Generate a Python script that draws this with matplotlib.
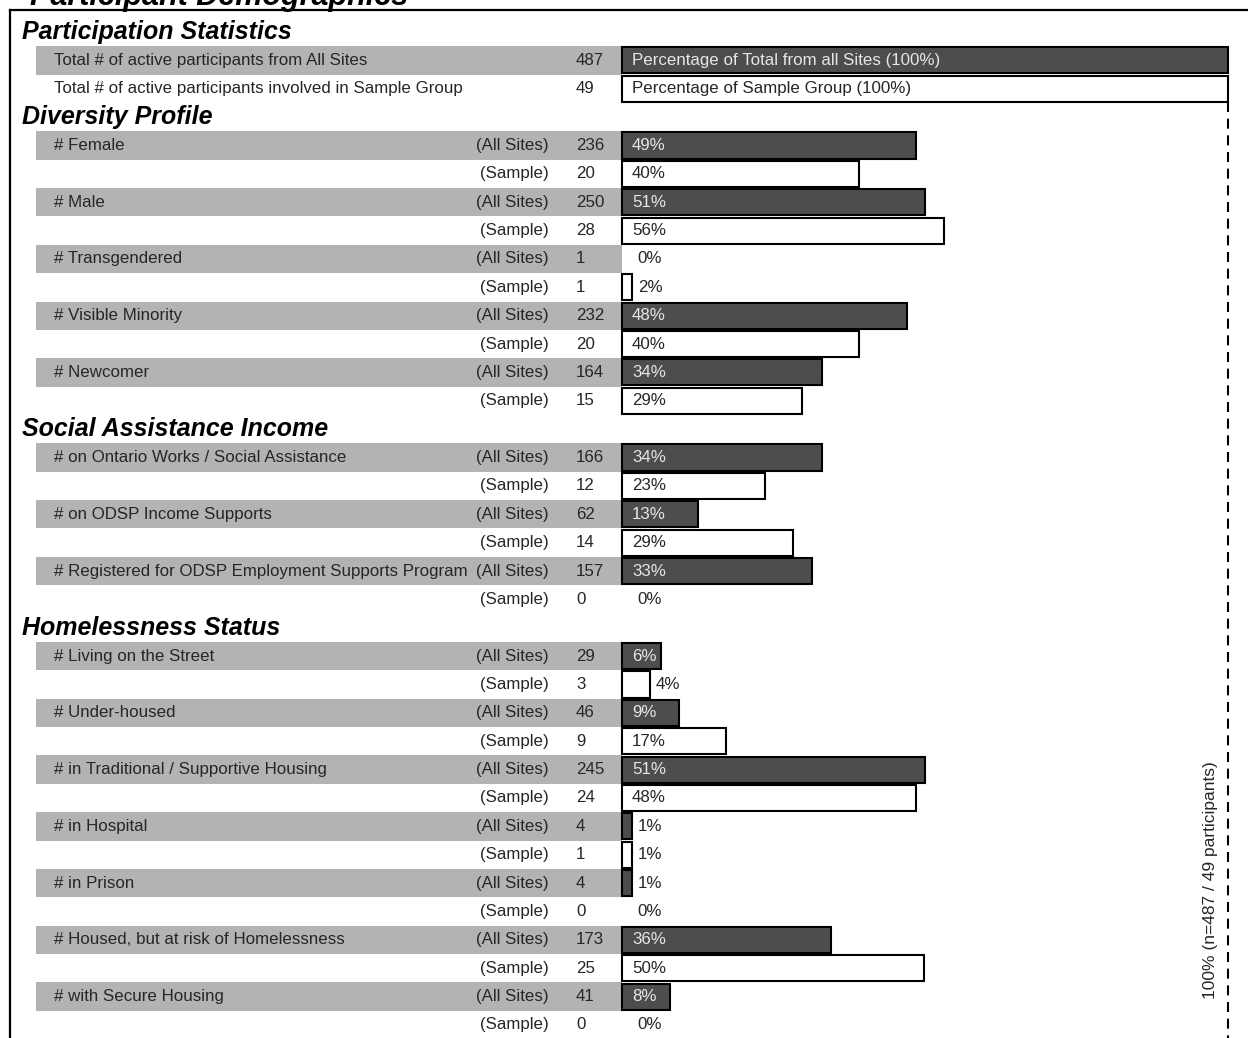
import matplotlib.pyplot as plt

plt.rcParams['font.family'] = ['Liberation Sans', 'DejaVu Sans']

# participation rows
part_labels = ["Total # of active participants from All Sites",
               "Total # of active participants involved in Sample Group"]
part_counts = [487, 49]
part_bar_text = ["Percentage of Total from all Sites (100%)", "Percentage of Sample Group (100%)"]
part_pct = [100, 100]

# sections
section_titles = ["Diversity Profile", "Social Assistance Income", "Homelessness Status"]

diversity_items = ["# Female", "# Male", "# Transgendered", "# Visible Minority", "# Newcomer"]
diversity_all = [236, 250, 1, 232, 164]
diversity_sample = [20, 28, 1, 20, 15]
diversity_all_pct = [49, 51, 0, 48, 34]
diversity_sample_pct = [40, 56, 2, 40, 29]
diversity_all_bar = [48.5, 50.0, 0, 47.0, 33.0]        # bar lengths as drawn
diversity_sample_bar = [39.1, 53.1, 1.65, 39.1, 29.7]

income_items = ["# on Ontario Works / Social Assistance", "# on ODSP Income Supports",
                "# Registered for ODSP Employment Supports Program"]
income_all = [166, 62, 157]
income_sample = [12, 14, 0]
income_all_pct = [34, 13, 33]
income_sample_pct = [23, 29, 0]
income_all_bar = [33.0, 12.5, 31.4]
income_sample_bar = [23.6, 28.2, 0]

housing_items = ["# Living on the Street", "# Under-housed", "# in Traditional / Supportive Housing",
                 "# in Hospital", "# in Prison", "# Housed, but at risk of Homelessness",
                 "# with Secure Housing"]
housing_all = [29, 46, 245, 4, 4, 173, 41]
housing_sample = [3, 9, 24, 1, 0, 25, 0]
housing_all_pct = [6, 9, 51, 1, 1, 36, 8]
housing_sample_pct = [4, 17, 48, 1, 0, 50, 0]
housing_all_bar = [6.4, 9.4, 50.0, 1.65, 1.65, 34.5, 7.9]
housing_sample_bar = [4.6, 17.2, 48.5, 1.65, 0, 49.8, 0]

sections = [
    (diversity_items, diversity_all, diversity_sample, diversity_all_pct, diversity_sample_pct,
     diversity_all_bar, diversity_sample_bar),
    (income_items, income_all, income_sample, income_all_pct, income_sample_pct,
     income_all_bar, income_sample_bar),
    (housing_items, housing_all, housing_sample, housing_all_pct, housing_sample_pct,
     housing_all_bar, housing_sample_bar),
]

# colours
GRAY = '#b3b3b3'
DARK = '#4d4d4d'
TXT = '#262626'

# pixel -> data helpers (0% at px 622, 100% at px 1228, rows every 28.37 px)
def px2x(px):
    return (px - 622) / 6.06

def px2y(py):
    return (py - 32) / 28.37

fig = plt.figure(figsize=(12.48, 10.38), dpi=100)
ax = fig.add_axes([0, 0, 1, 1])
ax.set_xlim(px2x(0), px2x(1248))
ax.set_ylim(px2y(1038), px2y(0))
ax.axis('off')

X_HEAD = px2x(22)
X_NAME = px2x(54)
X_TAG = px2x(549)
X_CNT = px2x(576)
X_PCT = px2x(632)
BAND_L = px2x(36)
FS = 12.2
FS_HEAD = 18


def header(k, title):
    ax.text(X_HEAD, k, title, fontsize=FS_HEAD, fontweight='heavy', style='italic',
            va='center', ha='left', color='black')


def band(k):
    ax.barh(k, 0 - BAND_L, left=BAND_L, height=1.0, color=GRAY, linewidth=0, zorder=1)


def bar(k, width, dark, label):
    if width > 0:
        ax.barh(k, width, left=0, height=0.92, color=DARK if dark else 'white',
                edgecolor='black', linewidth=1.5, zorder=2)
    if width > 5:
        ax.text(X_PCT, k, label, fontsize=FS, va='center', ha='left',
                color='#e6e6e6' if dark else TXT, zorder=3)
    else:
        ax.text(max(width + 1.0, 2.5), k, label, fontsize=FS, va='center', ha='left',
                color=TXT, zorder=3)


# title (cut off by the top of the page)
fig.text(30 / 1248, 1 - 5 / 1038, "Participant Demographics", fontsize=22,
         fontweight='heavy', style='italic', va='baseline', ha='left')

k = 0
header(k, "Participation Statistics")
for i in range(2):
    k += 1
    if i == 0:
        band(k)
    ax.text(X_NAME, k, part_labels[i], fontsize=FS, va='center', ha='left', color=TXT)
    ax.text(X_CNT, k, str(part_counts[i]), fontsize=FS, va='center', ha='left', color=TXT)
    ax.barh(k, part_pct[i], left=0, height=0.92, color=DARK if i == 0 else 'white',
            edgecolor='black', linewidth=1.5, zorder=2)
    ax.text(X_PCT, k, part_bar_text[i], fontsize=FS, va='center', ha='left',
            color='#e6e6e6' if i == 0 else TXT, zorder=3)
k_sample_total = k

for title, sec in zip(section_titles, sections):
    k += 1
    header(k, title)
    items, n_all, n_smp, p_all, p_smp, b_all, b_smp = sec
    for j in range(len(items)):
        k += 1
        band(k)
        ax.text(X_NAME, k, items[j], fontsize=FS, va='center', ha='left', color=TXT, zorder=3)
        ax.text(X_TAG, k, "(All Sites)", fontsize=FS, va='center', ha='right', color=TXT, zorder=3)
        ax.text(X_CNT, k, str(n_all[j]), fontsize=FS, va='center', ha='left', color=TXT, zorder=3)
        bar(k, b_all[j], True, f"{p_all[j]}%")
        k += 1
        ax.text(X_TAG, k, "(Sample)", fontsize=FS, va='center', ha='right', color=TXT, zorder=3)
        ax.text(X_CNT, k, str(n_smp[j]), fontsize=FS, va='center', ha='left', color=TXT, zorder=3)
        bar(k, b_smp[j], False, f"{p_smp[j]}%")

# frame
ax.plot([px2x(10), px2x(10)], [px2y(10), px2y(1040)], color='black', lw=1.6, clip_on=False)
ax.plot([px2x(10), px2x(1250)], [px2y(10), px2y(10)], color='black', lw=1.6, clip_on=False)

# 100% reference line
ax.plot([100, 100], [k_sample_total + 0.46, px2y(1040)], color='black', lw=1.5,
        ls=(0, (4.8, 3.2)), zorder=1)
ax.text(px2x(1211), px2y(880), "100% (n=487 / 49 participants)", rotation=90,
        fontsize=12.5, va='center', ha='center', color=TXT)

fig.savefig('out.png', dpi=100)
